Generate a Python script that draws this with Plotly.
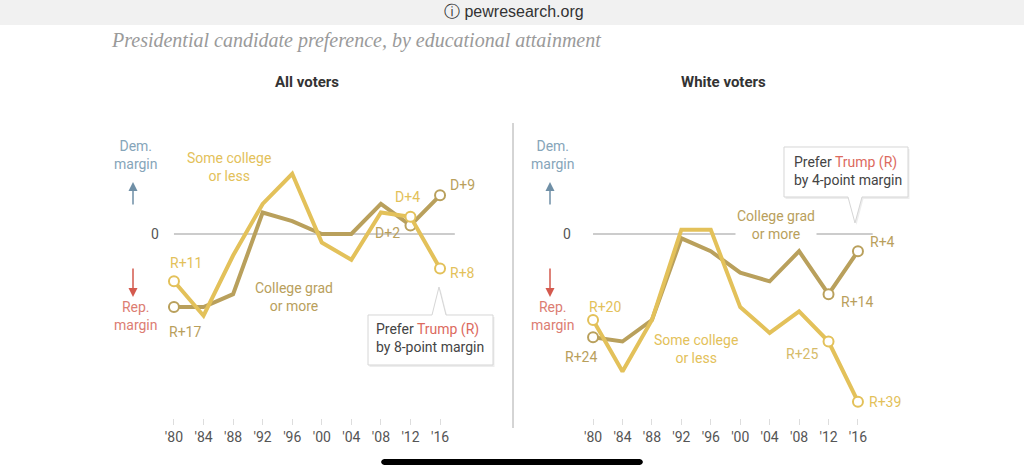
import plotly.graph_objects as go

W, H = 1024, 473

years = [1980, 1984, 1988, 1992, 1996, 2000, 2004, 2008, 2012, 2016]
tick_labels = ["'80", "'84", "'88", "'92", "'96", "'00", "'04", "'08", "'12", "'16"]

# Margin (positive = Democratic, negative = Republican)
all_some_college = [-11, -19, -5, 7, 14, -2, -6, 5, 4, -8]
all_college_grad = [-17, -17, -14, 5, 3, 0, 0, 7, 2, 9]
white_some_college = [-20, -32, -20, 1, 1, -17, -23, -18, -25, -39]
white_college_grad = [-24, -25, -20, -1, -4, -9, -11, -4, -14, -4]

YELLOW = "#e3c15a"
OLIVE = "#b9a05c"
BLUE_T = "#86a5b9"
BLUE_A = "#6f8fa6"
RED_T = "#dc7d72"
RED_A = "#d45a4e"
FONT = "Roboto"

def px(x):
    return x / W

def py(y):
    return 1 - y / H

fig = go.Figure()

end_idx = [0, 8, 9]

def add_series(vals, color, xa, ya):
    fig.add_trace(go.Scatter(x=years, y=vals, mode="lines",
                             line=dict(color=color, width=4),
                             xaxis=xa, yaxis=ya, hoverinfo="skip", showlegend=False))
    fig.add_trace(go.Scatter(x=[years[i] for i in end_idx], y=[vals[i] for i in end_idx],
                             mode="markers",
                             marker=dict(size=10, color="white", line=dict(color=color, width=2)),
                             xaxis=xa, yaxis=ya, hoverinfo="skip", showlegend=False))

add_series(all_college_grad, OLIVE, "x", "y")
add_series(all_some_college, YELLOW, "x", "y")
add_series(white_college_grad, OLIVE, "x2", "y2")
add_series(white_some_college, YELLOW, "x2", "y2")

ytop = (234 - 120) / 4.3
ybot = (234 - 418) / 4.3
ydom = [py(418), py(120)]

xaxis_common = dict(range=[1976, 2020], tickvals=years, ticktext=tick_labels,
                    showgrid=False, zeroline=False, showline=False,
                    ticks="outside", ticklen=6, tickcolor="#dddddd", tickwidth=1,
                    tickfont=dict(family=FONT, size=14, color="#555555"), fixedrange=True)
yaxis_common = dict(range=[ybot, ytop], visible=False, fixedrange=True)

fig.update_layout(
    width=W, height=H, margin=dict(l=0, r=0, t=0, b=0),
    paper_bgcolor="white", plot_bgcolor="white",
    xaxis=dict(domain=[px(144.4), px(469.6)], anchor="y", **xaxis_common),
    yaxis=dict(domain=ydom, anchor="x", **yaxis_common),
    xaxis2=dict(domain=[px(563.6), px(887.4)], anchor="y2", **xaxis_common),
    yaxis2=dict(domain=ydom, anchor="x2", **yaxis_common),
    font=dict(family=FONT, size=14),
)

shapes = []
# top browser bar
shapes.append(dict(type="rect", xref="paper", yref="paper", x0=0, x1=1, y0=py(25), y1=1,
                   fillcolor="#f1f1f1", line=dict(width=0), layer="below"))
# zero lines
for xr, yr in (("x", "y"), ("x2", "y2")):
    shapes.append(dict(type="line", xref=xr, yref=yr, x0=1980, x1=2018, y0=0, y1=0,
                       line=dict(color="#999999", width=1), layer="below"))
# divider
shapes.append(dict(type="line", xref="paper", yref="paper", x0=px(513), x1=px(513),
                   y0=py(123), y1=py(428), line=dict(color="#aaaaaa", width=1)))

def path(points):
    s = "M " + " L ".join(f"{px(x):.5f},{py(y):.5f}" for x, y in points) + " Z"
    return s

# home indicator (rounded ends)
hb = [(384, 459), (640, 459), (642, 460), (643, 462), (642, 464), (640, 465),
      (384, 465), (382, 464), (381, 462), (382, 460)]
shapes.append(dict(type="path", xref="paper", yref="paper", path=path(hb),
                   fillcolor="black", line=dict(width=0)))

left_box = [(368, 315), (432, 315), (439, 287), (446, 315), (493, 315), (493, 365), (368, 365)]
right_box = [(784, 147), (908, 147), (908, 197), (862, 197), (855, 223), (848, 197), (784, 197)]
for box in (left_box, right_box):
    shadow = [(x + 1.5, y + 2) for x, y in box]
    shapes.append(dict(type="path", xref="paper", yref="paper", path=path(shadow),
                       fillcolor="rgba(0,0,0,0.07)", line=dict(width=0)))
    shapes.append(dict(type="path", xref="paper", yref="paper", path=path(box),
                       fillcolor="white", line=dict(color="#d6d6d6", width=1)))
fig.update_layout(shapes=shapes)

ann = []

def ptext(x, y, text, color, size=14, xanchor="center", bold=False, family=FONT, bg=None, align="center"):
    d = dict(xref="paper", yref="paper", x=px(x), y=py(y), text=text, showarrow=False,
             xanchor=xanchor, yanchor="middle", align=align,
             font=dict(family=family, size=size, color=color))
    if bg:
        d["bgcolor"] = bg
    ann.append(d)

# browser bar
ptext(514, 12, "\u24d8 pewresearch.org", "#333333", size=16, family="Liberation Sans")
# title
ptext(109, 41, "<i>Presidential candidate preference, by educational attainment</i>", "#9a9a9a",
      size=20, xanchor="left", family="Liberation Serif")
# panel titles
ptext(307, 82, "<b>All voters</b>", "#333333", size=15)
ptext(723, 82, "<b>White voters</b>", "#333333", size=15)

for cx, zx in ((136, 155), (553, 567)):
    ptext(cx, 155, "Dem.<br>margin", BLUE_T, size=14)
    ptext(cx, 316, "Rep.<br>margin", RED_T, size=14)
    ptext(zx, 234, "0", "#555555", size=14)
    ann.append(dict(xref="paper", yref="paper", x=px(cx - 3), y=py(182), ax=0, ay=24,
                    text="", showarrow=True, arrowhead=2, arrowsize=1.2, arrowwidth=1.5,
                    arrowcolor=BLUE_A))
    ann.append(dict(xref="paper", yref="paper", x=px(cx - 3), y=py(297), ax=0, ay=-30,
                    text="", showarrow=True, arrowhead=2, arrowsize=1.2, arrowwidth=1.5,
                    arrowcolor=RED_A))

# group labels
ptext(229, 167, "Some college<br>or less", YELLOW)
ptext(294, 297, "College grad<br>or more", OLIVE)
ptext(776, 225, "College grad<br>or more", OLIVE, bg="white")
ptext(696, 349, "Some college<br>or less", YELLOW)

# callout texts
RED_TRUMP = "#dc6a5e"
ptext(374, 338, f"Prefer <span style='color:{RED_TRUMP}'>Trump (R)</span><br>by 8-point margin",
      "#444444", xanchor="left", align="left")
ptext(792, 171, f"Prefer <span style='color:{RED_TRUMP}'>Trump (R)</span><br>by 4-point margin",
      "#444444", xanchor="left", align="left")

def fmt(v):
    return f"D+{v}" if v > 0 else f"R+{-v}"

def vlabel(xa, ya, vals, i, color, xanchor, xshift, yshift):
    ann.append(dict(xref=xa, yref=ya, x=years[i], y=vals[i], text=fmt(vals[i]), showarrow=False,
                    xanchor=xanchor, yanchor="middle", xshift=xshift, yshift=yshift,
                    font=dict(family=FONT, size=14, color=color)))

# left
vlabel("x", "y", all_some_college, 0, YELLOW, "left", -6, 18)
vlabel("x", "y", all_college_grad, 0, OLIVE, "left", -7, -25)
vlabel("x", "y", all_some_college, 8, YELLOW, "center", -3, 20)
vlabel("x", "y", all_college_grad, 8, OLIVE, "right", -8, -8)
vlabel("x", "y", all_college_grad, 9, OLIVE, "left", 8, 10)
vlabel("x", "y", all_some_college, 9, YELLOW, "left", 8, -5)
# right
vlabel("x2", "y2", white_some_college, 0, YELLOW, "left", -6, 13)
vlabel("x2", "y2", white_college_grad, 0, OLIVE, "left", -30, -20)
vlabel("x2", "y2", white_college_grad, 9, OLIVE, "left", 10, 9)
vlabel("x2", "y2", white_college_grad, 8, OLIVE, "left", 10, -8)
vlabel("x2", "y2", white_some_college, 8, "#d6bb69", "right", -9, -12)
vlabel("x2", "y2", white_some_college, 9, YELLOW, "left", 9, 0)

fig.update_layout(annotations=ann)

fig.write_html("out.html", config={"displayModeBar": False},
               post_script="document.body.style.margin='0';document.body.style.overflow='hidden';")
